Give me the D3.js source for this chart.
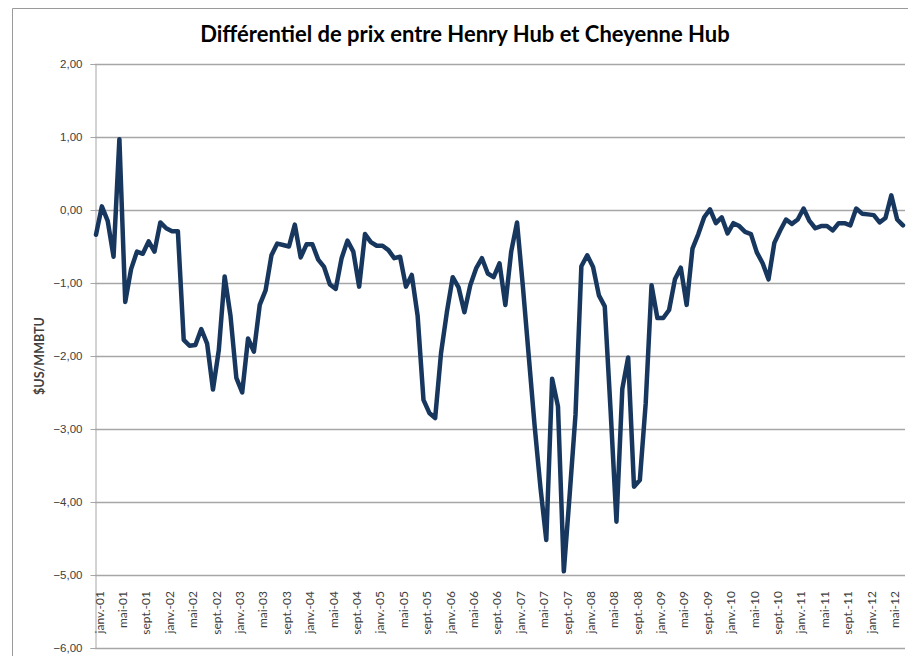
<!DOCTYPE html>
<html>
<head>
<meta charset="utf-8">
<script src="https://cdn.jsdelivr.net/npm/d3@7"></script>
<style>
  body { margin: 0; background: #fff; }
  svg { display: block; font-family: Lato, 'Open Sans', sans-serif; }
</style>
</head>
<body>
<script>
// monthly differential, janv. 2001 -> juil. 2012 ($US/MMBTU)
const START_YEAR = 2001
const MONTHS_FR = ['janv.', 'févr.', 'mars', 'avr.', 'mai', 'juin', 'juil.', 'août', 'sept.', 'oct.', 'nov.', 'déc.']
const values = [
  -0.34, 0.05, -0.15, -0.64, 0.97, -1.26, -0.81, -0.57, -0.60, -0.43, -0.57, -0.17,
  -0.25, -0.29, -0.29, -1.78, -1.86, -1.85, -1.63, -1.83, -2.46, -1.92, -0.91, -1.45,
  -2.30, -2.50, -1.76, -1.94, -1.30, -1.10, -0.62, -0.46, -0.48, -0.50, -0.20, -0.65,
  -0.47, -0.47, -0.68, -0.78, -1.02, -1.08, -0.66, -0.42, -0.57, -1.05, -0.33, -0.44,
  -0.49, -0.49, -0.55, -0.66, -0.64, -1.05, -0.89, -1.45, -2.60, -2.78, -2.85, -1.96,
  -1.40, -0.92, -1.06, -1.40, -1.03, -0.80, -0.66, -0.87, -0.92, -0.73, -1.30, -0.57,
  -0.17, -1.05, -2.00, -2.95, -3.80, -4.52, -2.31, -2.69, -4.95, -3.90, -2.80, -0.77,
  -0.62, -0.78, -1.17, -1.32, -2.75, -4.27, -2.45, -2.02, -3.79, -3.70, -2.65, -1.03,
  -1.48, -1.48, -1.37, -0.95, -0.79, -1.30, -0.53, -0.33, -0.10, 0.01, -0.18, -0.10,
  -0.32, -0.18, -0.22, -0.30, -0.33, -0.58, -0.73, -0.95, -0.45, -0.28, -0.13, -0.19,
  -0.13, 0.02, -0.15, -0.25, -0.22, -0.22, -0.28, -0.18, -0.18, -0.21, 0.02, -0.05,
  -0.06, -0.07, -0.17, -0.11, 0.20, -0.13, -0.21
]
const yTicks = [2, 1, 0, -1, -2, -3, -4, -5, -6]

const categories = values.map((v, i) =>
  `${MONTHS_FR[i % 12]}-${String((START_YEAR + Math.floor(i / 12)) % 100).padStart(2, '0')}`)
const tickIdx = categories.map((c, i) => i).filter(i => i % 4 === 0)

const W = 908
const H = 656
const PLOT = { LEFT: 95, RIGHT: 905, TOP: 64, BOTTOM: 648 }
const LINE_COLOR = '#17375e'
const GRID_COLOR = '#a6a6a6'
const TEXT_COLOR = '#404040'

const fr = d3.formatLocale({ decimal: ',', thousands: ' ', grouping: [3], currency: ['', ' $'] })
const fmt = fr.format('.2f')

const svg = d3.select('body').append('svg')
  .attr('width', W)
  .attr('height', H)

// outer chart frame (top + left edges visible)
svg.append('path')
  .attr('d', `M12.5,${H} V8.5 H${W}`)
  .attr('fill', 'none')
  .attr('stroke', '#9a9a9a')
  .attr('stroke-width', 1)

const x = d3.scaleLinear()
  .domain([0, values.length - 1])
  .range([96, 903])

const y = d3.scaleLinear()
  .domain([-6, 2])
  .range([PLOT.BOTTOM, PLOT.TOP])

// gridlines
svg.append('g')
    .attr('transform', `translate(${PLOT.LEFT},0)`)
  .call(d3.axisLeft(y).tickValues(yTicks).tickSize(-(PLOT.RIGHT - PLOT.LEFT)).tickFormat(''))
  .call(g => g.select('.domain').remove())
  .selectAll('line')
    .attr('stroke', GRID_COLOR)
    .attr('stroke-width', 1.3)

// y axis with labels
const yAxis = svg.append('g')
    .attr('transform', `translate(${PLOT.LEFT + 0.5},0)`)
  .call(d3.axisLeft(y).tickValues(yTicks).tickSize(5).tickPadding(8).tickFormat(fmt))
yAxis.select('.domain').attr('stroke', GRID_COLOR)
yAxis.selectAll('line').attr('stroke', GRID_COLOR)
yAxis.selectAll('text')
  .attr('fill', TEXT_COLOR)
  .attr('font-size', '11.5px')

// bottom border of plot
svg.append('line')
  .attr('x1', PLOT.LEFT).attr('x2', PLOT.RIGHT)
  .attr('y1', PLOT.BOTTOM + 0.5).attr('y2', PLOT.BOTTOM + 0.5)
  .attr('stroke', GRID_COLOR)

// category labels (drawn low, inside the plot)
svg.append('g')
  .selectAll('text')
  .data(tickIdx)
  .join('text')
    .attr('transform', i => `translate(${x(i) + 3.5},591) rotate(-90)`)
    .attr('text-anchor', 'end')
    .attr('dy', '0.35em')
    .attr('font-size', '12px')
    .attr('fill', TEXT_COLOR)
    .text(i => categories[i])

// the series
const line = d3.line()
  .x((d, i) => x(i))
  .y(d => y(d))

svg.append('path')
  .datum(values)
  .attr('d', line)
  .attr('fill', 'none')
  .attr('stroke', LINE_COLOR)
  .attr('stroke-width', 4.5)
  .attr('stroke-linejoin', 'round')
  .attr('stroke-linecap', 'round')

// title
svg.append('text')
  .attr('x', 465)
  .attr('y', 42)
  .attr('text-anchor', 'middle')
  .attr('font-size', '22px')
  .attr('font-weight', 'bold')
  .attr('fill', '#000')
  .text('Différentiel de prix entre Henry Hub et Cheyenne Hub')

// y axis title
svg.append('text')
  .attr('transform', `translate(40,${(PLOT.TOP + PLOT.BOTTOM) / 2}) rotate(-90)`)
  .attr('text-anchor', 'middle')
  .attr('dy', '0.35em')
  .attr('font-size', '12.5px')
  .attr('font-weight', 'bold')
  .attr('fill', TEXT_COLOR)
  .text('$US/MMBTU')
</script>
</body>
</html>
